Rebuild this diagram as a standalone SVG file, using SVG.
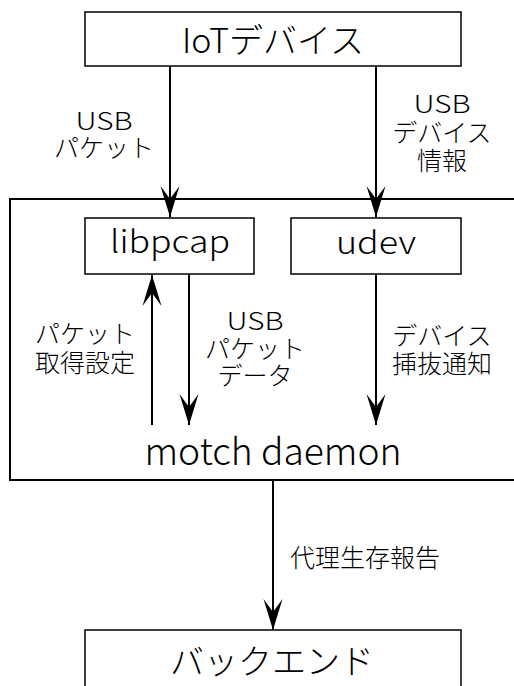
<svg xmlns="http://www.w3.org/2000/svg" width="514" height="686" viewBox="0 0 514 686">
<style>
text{font-family:"Noto Sans CJK JP","Noto Sans CJK SC",sans-serif;fill:#000;text-anchor:middle;font-weight:300}
.big{font-size:34px}
.mid{font-size:31px}
.lbl{font-size:25px}
.box{fill:#fff;stroke:#000;stroke-width:1.5}
.outer{fill:#fff;stroke:#000;stroke-width:2}
.edge{stroke:#000;stroke-width:2;fill:none;marker-end:url(#ah)}
</style>
<defs>
<marker id="ah" markerUnits="userSpaceOnUse" viewBox="-32 -10 34 20" refX="0" refY="0" markerWidth="34" markerHeight="20" orient="auto">
<path d="M0,0 L-31,-9.5 L-18,0 L-31,9.5 Z" fill="#000"/>
</marker>
</defs>
<rect width="514" height="686" fill="#fff"/>
<g id="daemon">
<rect class="outer" x="10" y="199" width="520" height="281"/>
<text x="273" y="465" style="font-size:37px" textLength="257" lengthAdjust="spacingAndGlyphs">motch daemon</text>
</g>
<g id="iot">
<rect class="box" x="85" y="12" width="376" height="54"/>
<text class="big" x="273" y="53">IoTデバイス</text>
</g>
<g id="libpcap">
<rect class="box" x="85" y="218" width="169" height="56"/>
<text class="mid" x="170" y="253" textLength="120" lengthAdjust="spacingAndGlyphs">libpcap</text>
</g>
<g id="udev">
<rect class="box" x="291" y="218" width="170" height="56"/>
<text class="mid" x="376" y="254" textLength="80" lengthAdjust="spacingAndGlyphs">udev</text>
</g>
<g id="backend">
<rect class="box" x="85" y="630" width="376" height="70"/>
<text class="big" x="272" y="674">バックエンド</text>
</g>
<g id="connectors">
<line class="edge" x1="170" y1="66" x2="170" y2="217"/>
<line class="edge" x1="376" y1="66" x2="376" y2="217"/>
<line class="edge" x1="152" y1="425" x2="152" y2="275"/>
<line class="edge" x1="189" y1="274" x2="189" y2="425"/>
<line class="edge" x1="376" y1="274" x2="376" y2="425"/>
<line class="edge" x1="273" y1="480" x2="273" y2="630"/>
<g class="labels">
<text class="lbl" x="104" y="130" textLength="57" lengthAdjust="spacingAndGlyphs">USB</text>
<text class="lbl" x="104" y="157">パケット</text>
<text class="lbl" x="442" y="113" textLength="57" lengthAdjust="spacingAndGlyphs">USB</text>
<text class="lbl" x="442" y="142">デバイス</text>
<text class="lbl" x="442" y="170">情報</text>
<text class="lbl" x="85" y="343">パケット</text>
<text class="lbl" x="85" y="372">取得設定</text>
<text class="lbl" x="255" y="330" textLength="57" lengthAdjust="spacingAndGlyphs">USB</text>
<text class="lbl" x="255" y="358">パケット</text>
<text class="lbl" x="255" y="385">データ</text>
<text class="lbl" x="442" y="345">デバイス</text>
<text class="lbl" x="442" y="373">挿抜通知</text>
<text class="lbl" x="365" y="567">代理生存報告</text>
</g>
</g>
</svg>
